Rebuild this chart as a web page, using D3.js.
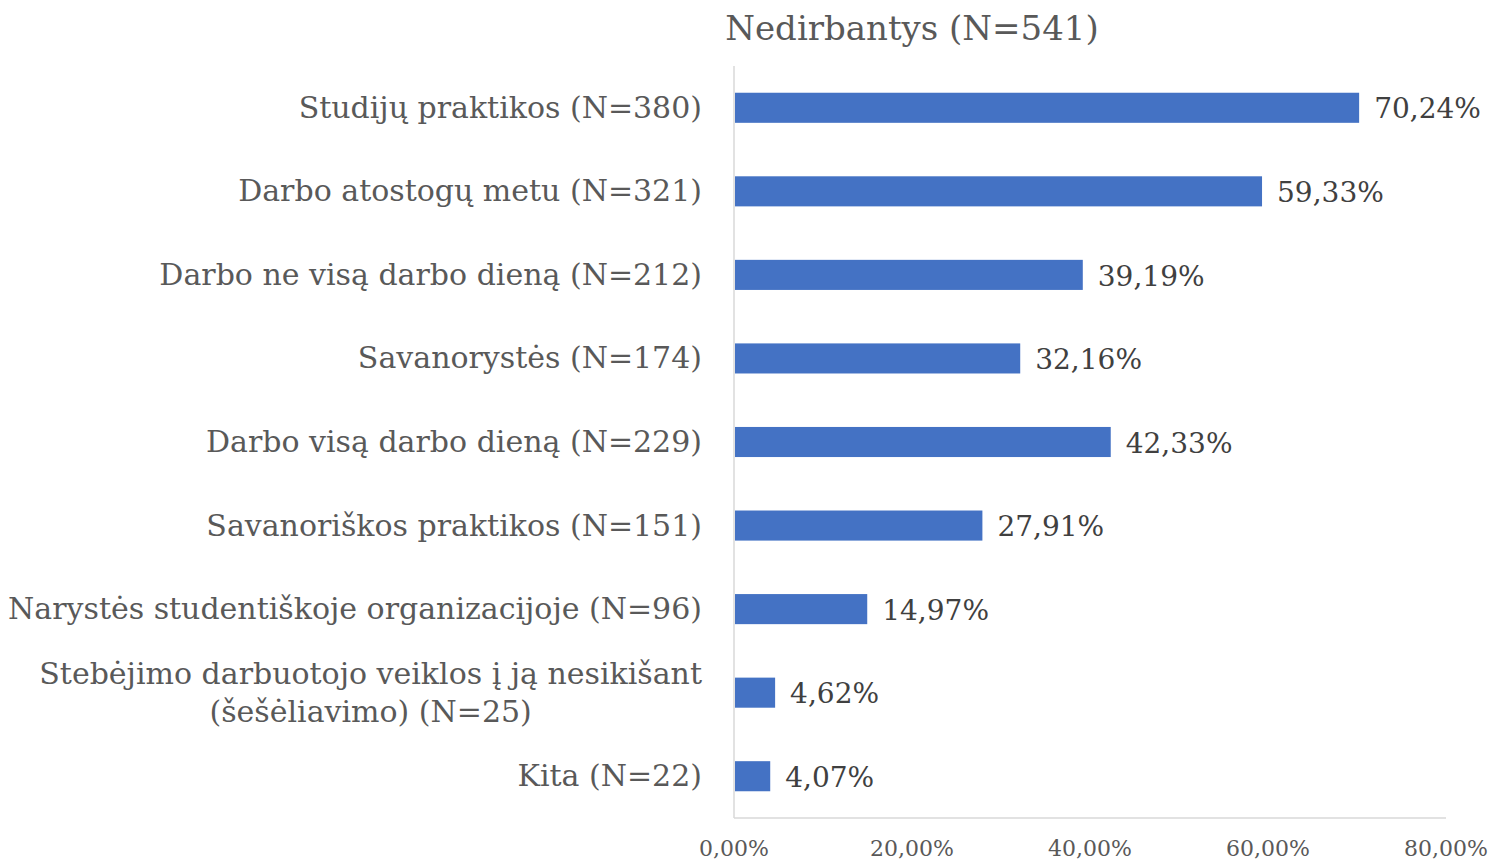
<!DOCTYPE html>
<html>
<head>
<meta charset="utf-8">
<script src="https://cdn.jsdelivr.net/npm/d3@7"></script>
<style>
body { margin: 0; background: #fff; }
text { font-family: "DejaVu Serif", "Liberation Serif", serif; }
</style>
</head>
<body>
<div id="chart"></div>
<script>
var categories = [
	["Studijų praktikos (N=380)"],
	["Darbo atostogų metu (N=321)"],
	["Darbo ne visą darbo dieną (N=212)"],
	["Savanorystės (N=174)"],
	["Darbo visą darbo dieną (N=229)"],
	["Savanoriškos praktikos (N=151)"],
	["Narystės studentiškoje organizacijoje (N=96)"],
	["Stebėjimo darbuotojo veiklos į ją nesikišant", "(šešėliavimo) (N=25)"],
	["Kita (N=22)"]
];
var values = [70.24, 59.33, 39.19, 32.16, 42.33, 27.91, 14.97, 4.62, 4.07];
var ticks = [0, 20, 40, 60, 80];
var title = "Nedirbantys (N=541)";

var W = 1492, H = 861;
var m = { left: 734, right: 46, top: 66, bottom: 43 };

var svg = d3.select('#chart').append('svg')
	.attr('width', W)
	.attr('height', H);

var x = d3.scaleLinear().domain([0, 80]).range([m.left, W - m.right]);
var y = d3.scaleBand().domain(d3.range(categories.length))
	.range([m.top, H - m.bottom])
	.paddingInner(0.64).paddingOuter(0.32);

var fmt = function (v) { return v.toFixed(2).replace('.', ',') + '%'; };

// title
svg.append('text')
	.attr('x', 912).attr('y', 40)
	.attr('text-anchor', 'middle')
	.attr('font-size', 34)
	.attr('fill', '#595959')
	.text(title);

// axes lines
svg.append('line')
	.attr('x1', x(0)).attr('x2', x(0))
	.attr('y1', m.top).attr('y2', H - m.bottom)
	.attr('stroke', '#d9d9d9').attr('stroke-width', 1.5);
svg.append('line')
	.attr('x1', x(0)).attr('x2', x(80))
	.attr('y1', H - m.bottom).attr('y2', H - m.bottom)
	.attr('stroke', '#d9d9d9').attr('stroke-width', 1.5);

// bars
svg.selectAll('rect.bar').data(values)
	.enter().append('rect')
	.attr('class', 'bar')
	.attr('x', x(0) + 1)
	.attr('y', function (d, i) { return y(i); })
	.attr('width', function (d) { return x(d) - x(0) - 1; })
	.attr('height', y.bandwidth())
	.attr('fill', '#4472c4');

// value labels
svg.selectAll('text.val').data(values)
	.enter().append('text')
	.attr('class', 'val')
	.attr('x', function (d) { return x(d) + 15; })
	.attr('y', function (d, i) { return y(i) + y.bandwidth() / 2; })
	.attr('dy', '0.38em')
	.attr('font-size', 28)
	.attr('fill', '#404040')
	.text(fmt);

// category labels (multi-line ones are centred as a block, right edge at 702)
var lineH = 38, labelRight = 702;
svg.selectAll('g.cat').data(categories)
	.enter().append('g')
	.attr('class', 'cat')
	.each(function (d, i) {
		var g = d3.select(this);
		var y0 = y(i) + y.bandwidth() / 2 - (d.length - 1) * lineH / 2 + 10;
		var lines = d.map(function (s, j) {
			return g.append('text')
				.attr('font-size', 30)
				.attr('fill', '#595959')
				.attr('y', y0 + j * lineH)
				.text(s);
		});
		var wMax = d3.max(lines, function (t) { return t.node().getComputedTextLength(); });
		lines.forEach(function (t) {
			t.attr('text-anchor', 'middle').attr('x', labelRight - wMax / 2);
		});
	});

// ticks
svg.selectAll('text.tick').data(ticks)
	.enter().append('text')
	.attr('class', 'tick')
	.attr('x', function (d) { return x(d); })
	.attr('y', 856)
	.attr('text-anchor', 'middle')
	.attr('font-size', 22)
	.attr('fill', '#595959')
	.text(function (d) { return d.toFixed(2).replace('.', ',') + '%'; });
</script>
</body>
</html>
